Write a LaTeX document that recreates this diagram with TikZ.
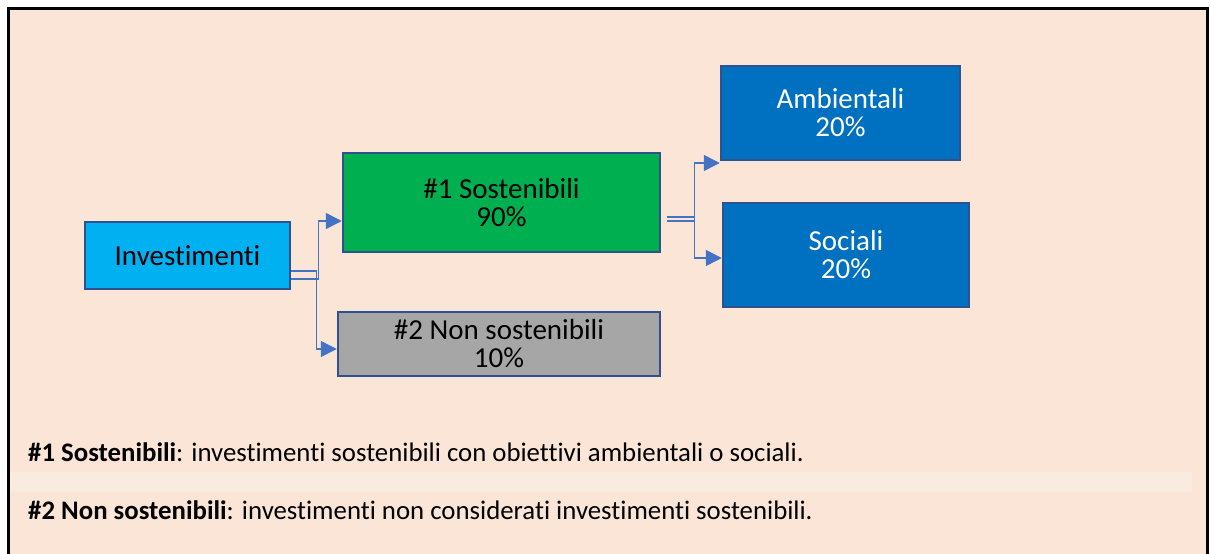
\documentclass[tikz,border=0pt]{standalone}
\usepackage{fontspec}
\setmainfont{Carlito}[Ligatures=NoCommon]
\usepackage{tikz}
\usepackage{xcolor}
\usetikzlibrary{arrows.meta}

\definecolor{bgpeach}{HTML}{FBE5D6}
\definecolor{bandpeach}{HTML}{FAEBE1}
\definecolor{invcyan}{HTML}{00B0F0}
\definecolor{sosgreen}{HTML}{00B050}
\definecolor{nongrey}{HTML}{A6A6A6}
\definecolor{subblue}{HTML}{0070C0}
\definecolor{boxline}{HTML}{2F528F}
\definecolor{connblue}{HTML}{4472C4}

\begin{document}
\begin{tikzpicture}[x=1pt,y=-1pt,
  box/.style={draw=boxline,line width=2.5pt,align=center,inner sep=0pt,
    font=\fontsize{29}{28}\selectfont},
  conn/.style={draw=connblue,line width=1.5pt},
  arr/.style={conn,-{Triangle[length=16pt,width=16pt]}},
  deftext/.style={anchor=base west,inner sep=0pt,font=\fontsize{26.8}{27}\selectfont}]
  \useasboundingbox (0,0) rectangle (1211,554);
  \fill[bgpeach] (8,8) rectangle (1207,554);
  \fill[bandpeach] (10,472) rectangle (1192,492);
  \draw[line width=3pt] (8,556) -- (8,8) -- (1207,8) -- (1207,556);

\node[box,fill=invcyan,minimum width=205pt,minimum height=67pt] (inv) at (187.5,255.5) {Investimenti};
\node[box,fill=sosgreen,minimum width=317pt,minimum height=99pt] (sos) at (501.5,202.5) {\#1 Sostenibili\\90\%};
\node[box,fill=nongrey,minimum width=322pt,minimum height=64pt] (non) at (499,344) {\#2 Non sostenibili\\10\%};
\node[box,fill=subblue,text=white,minimum width=239pt,minimum height=94pt] (amb) at (840.5,113) {Ambientali\\20\%};
\node[box,fill=subblue,text=white,minimum width=246pt,minimum height=104pt] (soc) at (846,255) {Sociali\\20\%};

\draw[arr] ([yshift=-23.5pt]inv.east) -- ++(27,0) |- ([yshift=-18.5pt]sos.west);
\draw[arr] ([yshift=-15.5pt]inv.east) -- ++(25,0) |- ([yshift=-5pt]non.west);
\draw[arr] ([xshift=6pt,yshift=-18.5pt]sos.east) -- ++(27,0) |- ([yshift=-50pt]amb.west);
\draw[arr] ([xshift=6pt,yshift=-14.5pt]sos.east) -- ++(27,0) |- ([yshift=-3pt]soc.west);

\node[deftext] (def1) at (28,461) {\textbf{\#1 Sostenibili}: investimenti sostenibili con obiettivi ambientali o sociali.};
\node[deftext] (def2) at (28,519) {\textbf{\#2 Non sostenibili}: investimenti non considerati investimenti sostenibili.};
\end{tikzpicture}
\end{document}
